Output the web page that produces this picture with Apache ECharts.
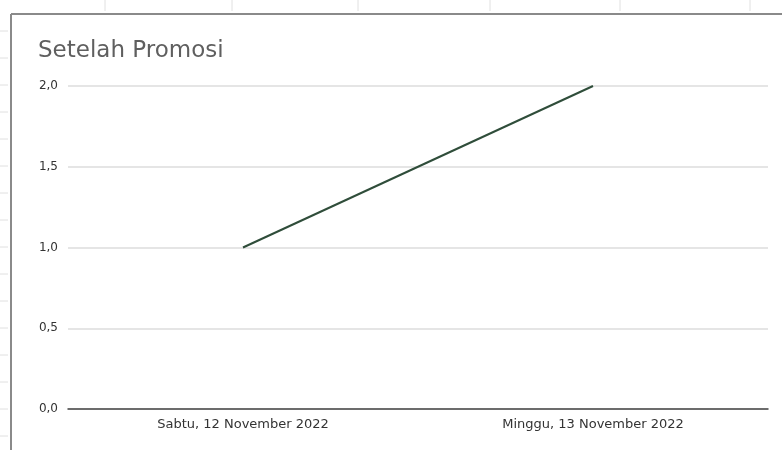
<!DOCTYPE html>
<html><head><meta charset="utf-8">
<script src="https://cdn.jsdelivr.net/npm/echarts@6/dist/echarts.min.js"></script>
<style>html,body{margin:0;padding:0;background:#fff}#c{width:782px;height:450px}</style>
</head><body><div id="c"></div>
<script>
const titleText = "Setelah Promosi";
const categories = ["Sabtu, 12 November 2022", "Minggu, 13 November 2022"];
const values = [1, 2];
const yTicks = [0, 0.5, 1, 1.5, 2];

const chart = echarts.init(document.getElementById('c'), null, {renderer: 'canvas'});
const frame = [
  {type:'line', shape:{x1:11, y1:14, x2:782, y2:14}, style:{stroke:'#8a8a8a', lineWidth:2}, silent:true},
  {type:'line', shape:{x1:11, y1:14, x2:11, y2:450}, style:{stroke:'#8a8a8a', lineWidth:2}, silent:true}
];
[105,232,358,490,620,750].forEach(x=>frame.push({type:'line', shape:{x1:x,y1:0,x2:x,y2:11}, style:{stroke:'#e0e0e0', lineWidth:1}, silent:true}));
for (let y=31; y<450; y+=27) frame.push({type:'line', shape:{x1:0,y1:y,x2:8,y2:y}, style:{stroke:'#e0e0e0', lineWidth:1}, silent:true});

chart.setOption({
  animation:false,
  backgroundColor:'#fff',
  title:{text:titleText, left:33, top:35, textStyle:{fontFamily:'DejaVu Sans', fontSize:23, fontWeight:'normal', color:'#5f5f5f'}},
  graphic: frame,
  grid:{left:68, right:14, top:86, bottom:41, containLabel:false},
  xAxis:{type:'category', data:categories, boundaryGap:true,
    axisLine:{lineStyle:{color:'#444', width:1.5}}, axisTick:{show:false},
    axisLabel:{fontFamily:'DejaVu Sans', fontSize:13, color:'#333', margin:9}},
  yAxis:{type:'value', min:yTicks[0], max:yTicks[yTicks.length-1], interval:0.5,
    axisLine:{show:false}, axisTick:{show:false},
    splitLine:{lineStyle:{color:'#dcdcdc', width:1.5}},
    axisLabel:{fontFamily:'DejaVu Sans', fontSize:12, color:'#333', margin:10,
      formatter:v=>v.toFixed(1).replace('.', ',')}},
  series:[{type:'line', data:values, symbol:'none', lineStyle:{color:'#2f4d3a', width:2}}]
});
</script></body></html>
